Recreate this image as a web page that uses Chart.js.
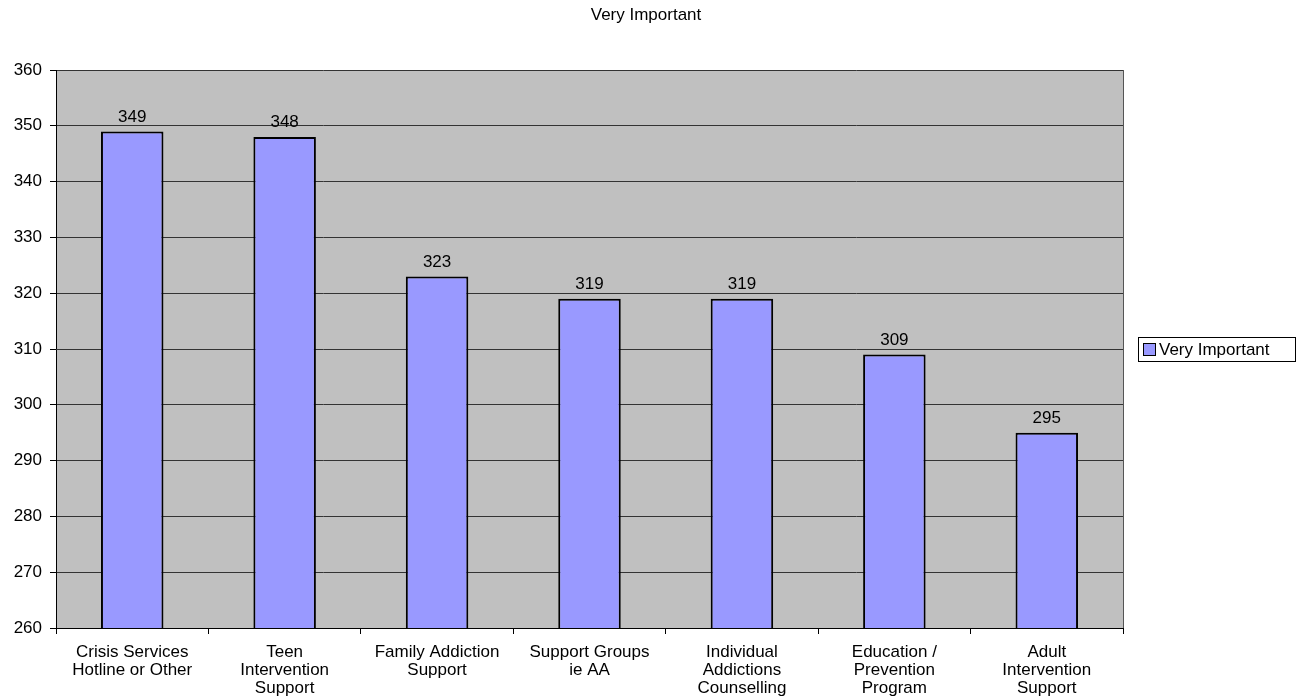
<!DOCTYPE html>
<html>
<head>
<meta charset="utf-8">
<script src="https://cdn.jsdelivr.net/npm/chart.js@4"></script>
<style>
  body { margin: 0; background: #fff; }
  canvas { display: block; }
</style>
</head>
<body>
<canvas id="chart" width="1303" height="698"></canvas>
<script>
// data
var categories = [
    ["Crisis Services", "Hotline or Other"],
    ["Teen", "Intervention", "Support"],
    ["Family Addiction", "Support"],
    ["Support Groups", "ie AA"],
    ["Individual", "Addictions", "Counselling"],
    ["Education /", "Prevention", "Program"],
    ["Adult", "Intervention", "Support"]
];
var veryImportant = [349, 348, 323, 319, 319, 309, 295];
var seriesName = "Very Important";
var chartTitle = "Very Important";

var FONT = "'Liberation Sans', Arial, sans-serif";

// gray plot background + border, title, value labels, legend box
var decor = {
    id: 'decor',
    beforeDraw: function(chart) {
        var ctx = chart.ctx, a = chart.chartArea;
        ctx.save();
        ctx.fillStyle = '#C0C0C0';
        ctx.fillRect(a.left, a.top, a.right - a.left, a.bottom - a.top);
        ctx.restore();
    },
    afterDraw: function(chart) {
        var ctx = chart.ctx, a = chart.chartArea;
        ctx.save();
        ctx.strokeStyle = '#555';
        ctx.lineWidth = 1;
        ctx.beginPath();
        ctx.moveTo(a.right + 0.5, a.top);
        ctx.lineTo(a.right + 0.5, a.bottom);
        ctx.stroke();

        // title
        ctx.fillStyle = '#000';
        ctx.font = '17px ' + FONT;
        ctx.textAlign = 'center';
        ctx.textBaseline = 'middle';
        ctx.fillText(chartTitle, 646, 15);

        // value labels
        ctx.font = '17px ' + FONT;
        ctx.textBaseline = 'bottom';
        var meta = chart.getDatasetMeta(0);
        meta.data.forEach(function(bar, i) {
            ctx.fillText(String(chart.data.datasets[0].data[i]), bar.x, bar.y - 6);
        });

        // legend
        var ds = chart.data.datasets[0];
        ctx.fillStyle = '#fff';
        ctx.fillRect(1138.5, 337.5, 157, 24);
        ctx.strokeStyle = '#000';
        ctx.strokeRect(1138.5, 337.5, 157, 24);
        ctx.fillStyle = ds.backgroundColor;
        ctx.fillRect(1143.5, 343.5, 12, 12);
        ctx.strokeRect(1143.5, 343.5, 12, 12);
        ctx.fillStyle = '#000';
        ctx.textAlign = 'left';
        ctx.textBaseline = 'middle';
        ctx.font = '17px ' + FONT;
        ctx.fillText(ds.label, 1159, 350);
        ctx.restore();
    }
};

var ctx = document.getElementById("chart").getContext("2d");
var myChart = new Chart(ctx, {
    type: "bar",
    data: {
        labels: categories,
        datasets: [{
            label: seriesName,
            data: veryImportant,
            backgroundColor: '#9999FF',
            borderColor: '#000',
            borderWidth: 2,
            barPercentage: 0.41,
            categoryPercentage: 1,
        }],
    },
    options: {
        responsive: false,
        animation: false,
        layout: {
            padding: { left: 0, right: 180, top: 70, bottom: 0 }
        },
        plugins: {
            legend: { display: false },
            title: { display: false },
            tooltip: { enabled: false },
        },
        scales: {
            x: {
                afterFit: function(scale) { scale.height = 70; },
                grid: {
                    drawOnChartArea: false,
                    tickLength: 6,
                    tickColor: '#000',
                    offset: true,
                },
                border: { color: '#000', width: 1 },
                ticks: {
                    color: '#000',
                    padding: 9,
                    maxRotation: 0,
                    autoSkip: false,
                    font: { family: FONT, size: 17, lineHeight: 1.06 },
                },
            },
            y: {
                min: 260,
                max: 360,
                afterFit: function(scale) { scale.width = 56; },
                grid: {
                    color: '#333',
                    tickLength: 6,
                    tickColor: '#000',
                },
                border: { color: '#000', width: 1 },
                ticks: {
                    stepSize: 10,
                    color: '#000',
                    padding: 8,
                    font: { family: FONT, size: 17 },
                },
            },
        },
    },
    plugins: [decor],
});
</script>
</body>
</html>
